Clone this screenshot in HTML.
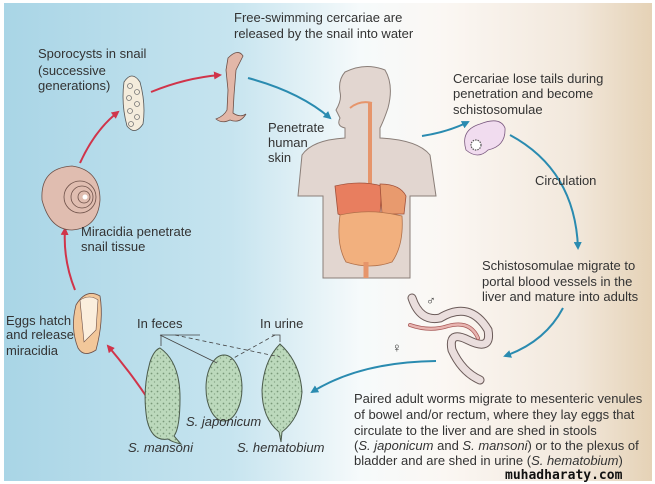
<!DOCTYPE html>
<html><head><meta charset="utf-8"><style>
html,body{margin:0;padding:0;background:#fff}
svg{display:block}
text{font-family:"Liberation Sans",sans-serif;font-size:13px;fill:#333}
.i{font-style:italic}
</style></head><body>
<svg width="655" height="484" viewBox="0 0 655 484" xmlns="http://www.w3.org/2000/svg">
<defs>
<linearGradient id="bg" x1="0" x2="1" y1="0" y2="0">
<stop offset="0" stop-color="#a9d5e6"/>
<stop offset="0.35" stop-color="#c6e4ef"/>
<stop offset="0.55" stop-color="#f6fafb"/>
<stop offset="0.68" stop-color="#fbf7f3"/>
<stop offset="0.88" stop-color="#f2e8dc"/>
<stop offset="1" stop-color="#e5d2b6"/>
</linearGradient>
<pattern id="stip" width="6" height="6" patternUnits="userSpaceOnUse">
<rect width="6" height="6" fill="#bcd9bc"/>
<circle cx="1.5" cy="1.5" r="0.9" fill="#7a9a7a"/><circle cx="4.5" cy="4" r="0.7" fill="#8aa88a"/>
</pattern>
<marker id="ab" markerWidth="8" markerHeight="8" refX="6" refY="4" orient="auto" markerUnits="userSpaceOnUse"><path d="M0,0 L8,4 L0,8 z" fill="#2a8bb0"/></marker>
<marker id="ar" markerWidth="8" markerHeight="8" refX="6" refY="4" orient="auto" markerUnits="userSpaceOnUse"><path d="M0,0 L8,4 L0,8 z" fill="#d0344a"/></marker>
</defs>
<rect x="4" y="3" width="648" height="478" fill="url(#bg)"/>

<g fill="none" stroke-width="2">
<path d="M248,78 Q300,92 330,118" stroke="#2a8bb0" marker-end="url(#ab)"/>
<path d="M422,136 Q448,132 468,122" stroke="#2a8bb0" marker-end="url(#ab)"/>
<path d="M510,135 Q575,170 578,248" stroke="#2a8bb0" marker-end="url(#ab)"/>
<path d="M563,308 Q545,342 505,356" stroke="#2a8bb0" marker-end="url(#ab)"/>
<path d="M436,361 Q360,362 312,392" stroke="#2a8bb0" marker-end="url(#ab)"/>
<path d="M146,396 Q130,372 108,346" stroke="#d0344a" marker-end="url(#ar)"/>
<path d="M75,290 Q63,260 65,229" stroke="#d0344a" marker-end="url(#ar)"/>
<path d="M80,163 Q95,130 118,112" stroke="#d0344a" marker-end="url(#ar)"/>
<path d="M151,92 Q185,78 220,75" stroke="#d0344a" marker-end="url(#ar)"/>
</g>

<path d="M345,72 Q365,62 385,70 Q394,85 388,108 Q384,120 380,128 L380,138 Q418,140 430,155 L436,196 L410,196 L410,278 L323,278 L323,196 L298,196 L302,155 Q312,140 345,138 L345,128 Q336,126 340,118 L336,110 Q342,100 340,92 Q338,80 345,72 Z" fill="#e2d6d0" stroke="#8a7e78" stroke-width="1"/>
<path d="M370,102 L370,190" stroke="#e6956b" stroke-width="4" fill="none"/>
<path d="M350,108 Q360,100 372,103" stroke="#e6956b" stroke-width="2" fill="none"/>
<path d="M335,186 Q360,180 382,186 L380,214 Q355,222 338,214 Z" fill="#e87e5f" stroke="#a0503a" stroke-width="0.8"/>
<path d="M380,184 Q400,184 406,196 L404,214 L382,214 Z" fill="#e89a6e" stroke="#a0503a" stroke-width="0.8"/>
<path d="M340,215 Q370,208 402,216 Q404,245 392,262 Q370,270 346,262 Q336,245 340,215 Z" fill="#f2b07e" stroke="#b0704a" stroke-width="0.8"/>
<path d="M366,262 L366,278" stroke="#e6956b" stroke-width="5"/>

<path d="M228,58 Q238,48 243,56 L236,70 L234,95 L233,113 Q240,118 246,114 Q240,124 230,120 Q222,124 216,119 Q224,116 227,110 L228,90 L226,70 Z" fill="#e2b7a8" stroke="#6d5048" stroke-width="0.8"/>

<path d="M124,82 Q132,70 140,82 Q146,104 143,124 Q135,136 127,126 Q121,104 124,82 Z" fill="#f4ecdc" stroke="#555" stroke-width="0.8"/>
<g fill="none" stroke="#777" stroke-width="0.8"><circle cx="130" cy="86" r="2.5"/><circle cx="137" cy="92" r="2.5"/><circle cx="129" cy="98" r="2.5"/><circle cx="137" cy="104" r="2.5"/><circle cx="130" cy="111" r="2.5"/><circle cx="137" cy="117" r="2.5"/><circle cx="131" cy="124" r="2.5"/></g>

<path d="M42,200 Q40,168 72,166 Q100,170 100,200 Q98,228 72,230 Q50,230 42,200 Z" fill="#e0bdb0" stroke="#6d5048" stroke-width="0.8"/>
<g fill="none" stroke="#6d5048" stroke-width="0.8"><circle cx="80" cy="197" r="16"/><circle cx="82" cy="197" r="11"/><circle cx="84" cy="197" r="6"/></g>
<circle cx="85" cy="197" r="2.5" fill="#fff"/>

<path d="M76,305 Q86,288 100,296 Q104,320 96,350 Q84,358 78,348 Q70,328 76,305 Z" fill="#f2c79a" stroke="#6d5048" stroke-width="0.8"/>
<path d="M80,300 Q90,294 98,300 L96,330 L84,342 Z" fill="#fbeedd" stroke="#6d5048" stroke-width="0.6"/>

<path d="M466,150 Q460,130 480,124 Q500,116 505,128 Q506,146 488,150 Q478,160 466,150 Z" fill="#f1dcef" stroke="#7b5a80" stroke-width="0.8"/>
<circle cx="476" cy="145" r="5" fill="#fff" stroke="#555" stroke-width="1.2" stroke-dasharray="1.5 1"/>

<g fill="none" stroke-linecap="round">
<path d="M412,298 Q420,322 440,318 Q470,300 488,330 Q492,352 468,340 Q448,330 452,350 Q462,372 480,380" stroke="#6a5a58" stroke-width="9"/>
<path d="M412,298 Q420,322 440,318 Q470,300 488,330 Q492,352 468,340 Q448,330 452,350 Q462,372 480,380" stroke="#eadedd" stroke-width="7"/>
<path d="M410,325 Q430,332 448,326 Q470,320 478,338" stroke="#a85a58" stroke-width="4"/>
<path d="M410,325 Q430,332 448,326 Q470,320 478,338" stroke="#e8b4b0" stroke-width="2.5"/>
</g>
<text x="426" y="305" font-size="14">♂</text>
<text x="392" y="352" font-size="14">♀</text>

<path d="M160,348 Q180,362 180,398 Q180,428 174,436 L181,444 Q172,442 168,439 Q152,442 147,420 Q142,390 150,362 Q154,350 160,348 Z" fill="url(#stip)" stroke="#4a5a4a" stroke-width="1"/>
<ellipse cx="224" cy="388" rx="18" ry="33" fill="url(#stip)" stroke="#4a5a4a" stroke-width="1"/>
<path d="M280,344 Q300,362 302,392 Q300,418 282,432 L281,442 L279,432 Q262,418 262,390 Q264,360 280,344 Z" fill="url(#stip)" stroke="#4a5a4a" stroke-width="1"/>
<g fill="none" stroke="#444" stroke-width="0.8">
<path d="M161,346 L161,335 L200,335"/><path d="M160,335 L217,363"/>
<path d="M280,342 L280,335 L272,335"/>
<path d="M175,335 L280,357" stroke-dasharray="4 3"/><path d="M275,335 L230,360" stroke-dasharray="4 3"/>
</g>

<text x="234" y="22">Free-swimming cercariae are</text>
<text x="234" y="38">released by the snail into water</text>
<text x="38" y="58">Sporocysts in snail</text>
<text x="38" y="75">(successive</text>
<text x="38" y="90">generations)</text>
<text x="268" y="132">Penetrate</text>
<text x="268" y="147">human</text>
<text x="268" y="162">skin</text>
<text x="453" y="83">Cercariae lose tails during</text>
<text x="453" y="98">penetration and become</text>
<text x="453" y="114">schistosomulae</text>
<text x="535" y="185">Circulation</text>
<text x="482" y="270">Schistosomulae migrate to</text>
<text x="482" y="286">portal blood vessels in the</text>
<text x="482" y="301">liver and mature into adults</text>
<text x="81" y="236">Miracidia penetrate</text>
<text x="81" y="251">snail tissue</text>
<text x="6" y="325">Eggs hatch</text>
<text x="6" y="339">and release</text>
<text x="6" y="355">miracidia</text>
<text x="137" y="328">In feces</text>
<text x="260" y="328">In urine</text>
<text x="186" y="426" class="i">S. japonicum</text>
<text x="128" y="452" class="i">S. mansoni</text>
<text x="237" y="452" class="i">S. hematobium</text>
<text x="354" y="403">Paired adult worms migrate to mesenteric venules</text>
<text x="354" y="419">of bowel and/or rectum, where they lay eggs that</text>
<text x="354" y="435">circulate to the liver and are shed in stools</text>
<text x="354" y="450">(<tspan class="i">S. japonicum</tspan> and <tspan class="i">S. mansoni</tspan>) or to the plexus of</text>
<text x="354" y="465">bladder and are shed in urine (<tspan class="i">S. hematobium</tspan>)</text>
<text x="505" y="479" font-size="16" font-weight="bold" style="font-family:'DejaVu Sans Mono','Liberation Mono',monospace;fill:#111">muhadharaty.com</text>
</svg>
</body></html>
